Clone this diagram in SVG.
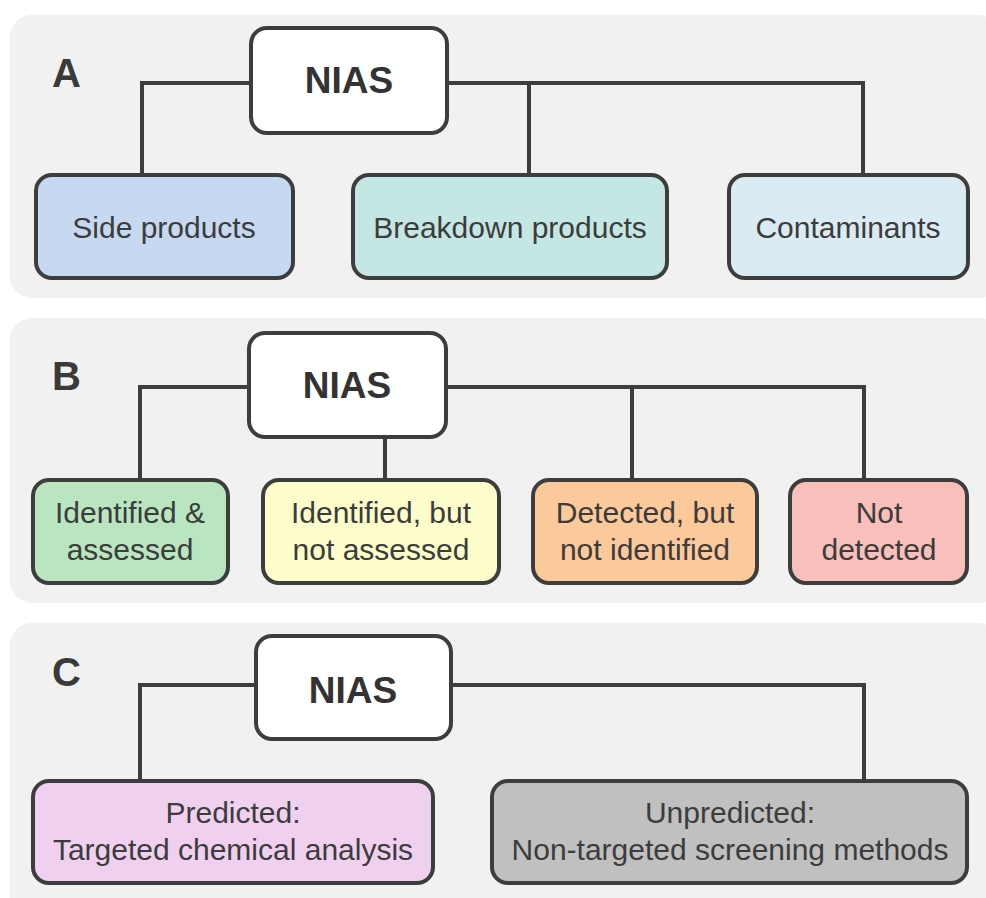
<svg xmlns="http://www.w3.org/2000/svg" width="986" height="898" viewBox="0 0 986 898">
  <style>
    .panel { fill: #f1f1f1; }
    .box { stroke: #3d3d3d; stroke-width: 4; }
    .root { fill: #ffffff; }
    .link { fill: none; stroke: #3d3d3d; stroke-width: 4; stroke-linejoin: miter; }
    .tag { font-family: "Liberation Sans", Arial, sans-serif; font-weight: bold; font-size: 40px; fill: #3a3a3a; }
    .head { font-family: "Liberation Sans", Arial, sans-serif; font-weight: bold; font-size: 37px; fill: #333333; text-anchor: middle; }
    .lbl { font-family: "Liberation Sans", Arial, sans-serif; font-size: 30px; fill: #3c3c3c; text-anchor: middle; }
  </style>

  <!-- panel backgrounds -->
  <rect class="panel" x="10" y="15" width="990" height="283" rx="22"/>
  <rect class="panel" x="10" y="318" width="990" height="285" rx="22"/>
  <rect class="panel" x="10" y="623" width="990" height="300" rx="22"/>

  <text class="tag" x="52" y="87">A</text>
  <text class="tag" x="52" y="390">B</text>
  <text class="tag" x="52" y="686">C</text>

  <!-- connectors -->
  <g id="connectors">
    <path class="link" d="M251,83 H142 V175"/>
    <path class="link" d="M447,83 H863 V175 M529,83 V175"/>
    <path class="link" d="M249,387 H140 V480"/>
    <path class="link" d="M385,437 V480"/>
    <path class="link" d="M446,387 H864 V480 M632,387 V480"/>
    <path class="link" d="M256,685 H140 V781"/>
    <path class="link" d="M451,685 H864 V781"/>
  </g>

  <!-- panel A -->
  <g id="a-nias">
    <rect class="box root" x="251" y="28" width="196" height="105" rx="16"/>
    <text class="head" x="349" y="93">NIAS</text>
  </g>
  <g id="a-side">
    <rect class="box" fill="#c6d9f0" x="36" y="175" width="257" height="103" rx="16"/>
    <text class="lbl" x="164" y="238">Side products</text>
  </g>
  <g id="a-breakdown">
    <rect class="box" fill="#c5e7e3" x="353" y="175" width="314" height="103" rx="16"/>
    <text class="lbl" x="510" y="238">Breakdown products</text>
  </g>
  <g id="a-contaminants">
    <rect class="box" fill="#dbebf3" x="729" y="175" width="239" height="103" rx="16"/>
    <text class="lbl" x="848" y="238">Contaminants</text>
  </g>

  <!-- panel B -->
  <g id="b-nias">
    <rect class="box root" x="249" y="333" width="197" height="104" rx="16"/>
    <text class="head" x="347" y="398">NIAS</text>
  </g>
  <g id="b-identified-assessed">
    <rect class="box" fill="#b9e6c0" x="33" y="480" width="195" height="103" rx="16"/>
    <text class="lbl" x="130" y="523">Identified &amp;</text>
    <text class="lbl" x="130" y="560">assessed</text>
  </g>
  <g id="b-identified-not-assessed">
    <rect class="box" fill="#fdfdcb" x="263" y="480" width="236" height="103" rx="16"/>
    <text class="lbl" x="381" y="523">Identified, but</text>
    <text class="lbl" x="381" y="560">not assessed</text>
  </g>
  <g id="b-detected">
    <rect class="box" fill="#fcc99b" x="533" y="480" width="224" height="103" rx="16"/>
    <text class="lbl" x="645" y="523">Detected, but</text>
    <text class="lbl" x="645" y="560">not identified</text>
  </g>
  <g id="b-not-detected">
    <rect class="box" fill="#f8bfbb" x="790" y="480" width="177" height="103" rx="16"/>
    <text class="lbl" x="879" y="523">Not</text>
    <text class="lbl" x="879" y="560">detected</text>
  </g>

  <!-- panel C -->
  <g id="c-nias">
    <rect class="box root" x="256" y="636" width="195" height="103" rx="16"/>
    <text class="head" x="353" y="703">NIAS</text>
  </g>
  <g id="c-predicted">
    <rect class="box" fill="#efd1ef" x="33" y="781" width="400" height="102" rx="16"/>
    <text class="lbl" x="233" y="823">Predicted:</text>
    <text class="lbl" x="233" y="860">Targeted chemical analysis</text>
  </g>
  <g id="c-unpredicted">
    <rect class="box" fill="#c0c0c0" x="492" y="781" width="475" height="102" rx="16"/>
    <text class="lbl" x="730" y="823">Unpredicted:</text>
    <text class="lbl" x="730" y="860">Non-targeted screening methods</text>
  </g>
</svg>
